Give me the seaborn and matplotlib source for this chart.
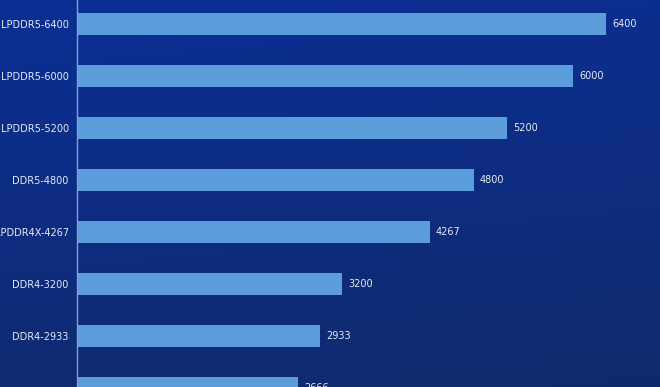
import numpy as np
import pandas as pd
import matplotlib
matplotlib.use("Agg")
import matplotlib.pyplot as plt
import seaborn as sns

categories = ["LPDDR5-6400", "LPDDR5-6000", "LPDDR5-5200", "DDR5-4800",
              "LPDDR4X-4267", "DDR4-3200", "DDR4-2933", "DDR4-2666"]
values = [6400, 6000, 5200, 4800, 4267, 3200, 2933, 2666]

df = pd.DataFrame({"mem": categories, "speed": values})

sns.set_theme(style="white")
plt.rcParams["font.family"] = ["DejaVu Sans"]

W, H = 660, 387
fig = plt.figure(figsize=(W / 100, H / 100), dpi=100)

# gradient background
bg = fig.add_axes([0, 0, 1, 1], zorder=0)
yy = np.linspace(0, 1, 200)[:, None]
xx = np.linspace(0, 1, 300)[None, :]
top = np.array([0x0b, 0x2f, 0x95]) / 255
bot = np.array([0x10, 0x2a, 0x6c]) / 255
t = yy * 0.85 + xx * 0.15
img = top[None, None, :] * (1 - t[..., None]) + bot[None, None, :] * t[..., None]
bg.imshow(img, aspect="auto", extent=[0, 1, 1, 0])
bg.set_axis_off()

left_px = 77
ax = fig.add_axes([left_px / W, 0, (W - left_px) / W, 1], zorder=1)
ax.patch.set_alpha(0)

sns.barplot(data=df, x="speed", y="mem", orient="h", color="#5b9cda",
            saturation=1, width=0.41, linewidth=0, edgecolor="none", ax=ax)

px_per_unit = (606 - 78) / 6400
ax.set_xlim(-1 / px_per_unit, (W - left_px - 1) / px_per_unit)
pitch = 52.0
c0 = 24.0
ax.set_ylim((H - c0) / pitch, -c0 / pitch)

for i, v in enumerate(values):
    ax.text(v + 6 / px_per_unit, i, f"{v}", va="center", ha="left",
            color="#e4ebf7", fontsize=7)

ax.set_xlabel("")
ax.set_ylabel("")
ax.set_xticks([])
ax.tick_params(axis="y", length=0, pad=6, labelsize=7, labelcolor="#e4ebf7")
for s in ["top", "right", "bottom"]:
    ax.spines[s].set_visible(False)
ax.spines["left"].set_color("#7f9fdc")
ax.spines["left"].set_linewidth(1.0)

fig.savefig("out.png", dpi=100)
